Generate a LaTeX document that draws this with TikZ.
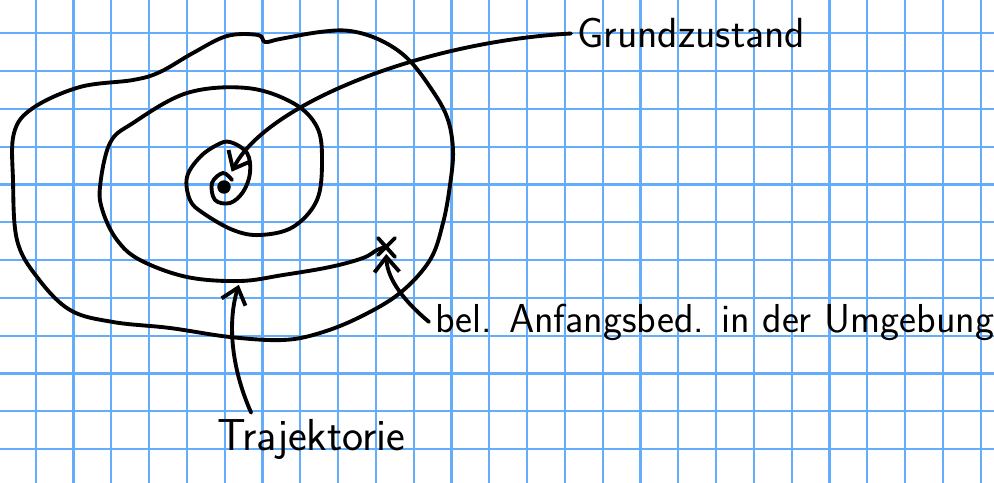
\documentclass[tikz,border=0pt]{standalone}
\usepackage{fontspec}
\usetikzlibrary{arrows.meta,calc}
\definecolor{paperblue}{RGB}{100,172,252}
\newcommand{\handsize}[1]{\sffamily\fontsize{#1}{#1}\selectfont}
\tikzset{>={Straight Barb[length=3mm,width=5mm]},every node/.style={font=\handsize{24}},paper/.style={line width=1.2pt,paperblue},ink/.style={line width=2.2pt,line cap=round,line join=round},flow/.style={ink,->}}
\begin{document}
\begin{tikzpicture}[x=0.02cm,y=-0.02cm]
\useasboundingbox (0,0) rectangle (994,483);
% kariertes Papier
\foreach \gx in {0,...,25} \draw[paper] ({35.7+37.8*\gx},0)--++(0,483);
\foreach \gy in {0,...,11} \draw[paper] (0,{33.3+37.8*\gy})--++(994,0);
% Texte und Punkte
\node[anchor=base west] (gz) at (571,48) {Grundzustand};
\node[anchor=base west,font=\handsize{23}] (anf) at (429,332) {bel. Anfangsbed. in der Umgebung};
\node[anchor=base west,font=\handsize{25.5}] (traj) at (211,450) {Trajektorie};
\node[circle,fill,inner sep=0,minimum size=.27cm] (fix) at (224,187) {};
\coordinate (start) at (386,247);
\coordinate (low) at (240,281);
% Umgebung
\draw[ink] plot[smooth cycle,tension=.6] coordinates {(13,180) (14,133) (33,108) (80,87) (133,80) (160,72) (193,53) (227,36) (258,35) (265,42) (280,39) (320,32) (350,31) (380,40) (407,58) (430,87) (447,117) (453,150) (450,185) (443,223) (430,260) (400,293) (360,317) (320,333) (283,340) (230,337) (170,328) (113,322) (70,310) (37,277) (17,240)};
% Trajektorie (Spirale)
\draw[ink] plot[smooth,tension=.6] coordinates {(start) (377,250) (363,258) (330,267) (283,275) (low) (187,277) (140,260) (117,240) (103,212) (100,187) (110,143) (133,123) (187,93) (247,88) (293,103) (317,127) (322,160) (317,200) (293,227) (260,235) (233,230) (203,213) (190,200) (187,177) (200,157) (217,145) (230,142) (247,153) (250,173) (243,192) (230,203) (215,200) (212,183) (223,173) (232,180)};
\draw[ink] ([shift={(-8,-9)}]start)--([shift={(9,10)}]start) ([shift={(9,-9)}]start)--([shift={(-8,8)}]start);
% Pfeile
\draw[flow,shorten >=.2cm] (gz.west) .. controls (420,42) and (265,105) .. (fix);
\draw[flow,shorten >=.14cm] (anf.west) .. controls (398,296) and (387,275) .. (start);
\draw[flow,shorten >=.08cm] ($(traj.north west)!.2!(traj.north east)$) .. controls (230,365) and (228,320) .. (low);
\end{tikzpicture}
\end{document}
